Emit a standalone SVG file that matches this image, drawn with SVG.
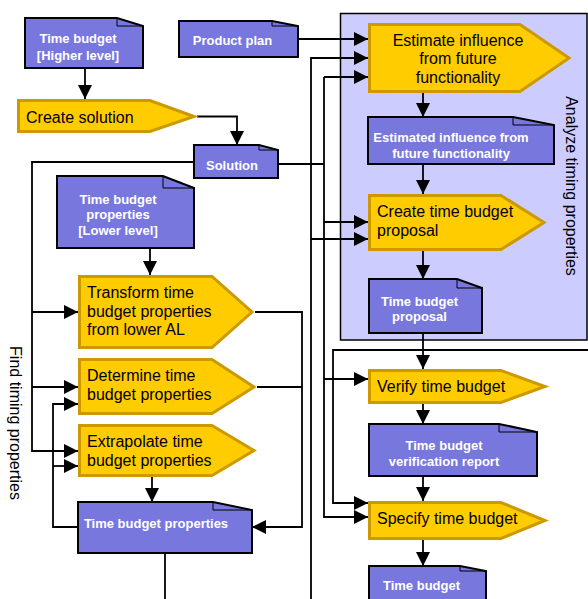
<svg xmlns="http://www.w3.org/2000/svg" width="588" height="599" viewBox="0 0 588 599">
<style>
  .proc { fill: #ffcc00; stroke: #cc9900; stroke-width: 3; stroke-linejoin: miter; }
  .doc { fill: #7777dd; stroke: #000; stroke-width: 2; }
  .fold { fill: none; stroke: #000; stroke-width: 1; }
  .pt { font-family: "Liberation Sans", Arial, sans-serif; font-size: 16px; fill: #000; }
  .dt { font-family: "Liberation Sans", Arial, sans-serif; font-size: 13px; font-weight: bold; fill: #fff; text-anchor: middle; }
  .lane { font-family: "Liberation Sans", Arial, sans-serif; font-size: 16px; fill: #000; text-anchor: middle; }
  .c { fill: none; stroke: #000; stroke-width: 1.8; }
  .a { marker-end: url(#arr); }
</style>
<defs>
  <marker id="arr" markerUnits="userSpaceOnUse" markerWidth="15" markerHeight="15" refX="14" refY="7" orient="auto">
    <path d="M0,0 L14,7 L0,14 Z" fill="#000"/>
  </marker>
</defs>
<rect x="0" y="0" width="588" height="599" fill="#fff"/>

<g id="lane-analyze">
  <rect x="340.5" y="13.5" width="246.5" height="326.5" fill="#ccccff" stroke="#000" stroke-width="1.5"/>
  <text class="lane" transform="translate(566,186) rotate(90)">Analyze timing properties</text>
</g>
<g id="lane-find">
  <text class="lane" transform="translate(10,423) rotate(90)">Find timing properties</text>
</g>

<g id="connectors">
  <path class="c a" d="M85,68 V99"/>
  <path class="c a" d="M197,116.5 H237 V145"/>
  <path class="c a" d="M194,162 H32 V451 H78"/>
  <path class="c a" d="M32,312 H78"/>
  <path class="c a" d="M32,387 H78"/>
  <path class="c a" d="M150,248 V275"/>
  <path class="c a" d="M78,527 H53 V404 H78"/>
  <path class="c a" d="M53,466 H78"/>
  <path class="c a" d="M152,477 V502"/>
  <path class="c a" d="M255,312 H302 V527 H252"/>
  <path class="c" d="M257,387 H302"/>
  <path class="c" d="M165,553 V599"/>
  <path class="c a" d="M298,39 H368"/>
  <path class="c a" d="M311,599 V58 H368"/>
  <path class="c a" d="M311,239 H368"/>
  <path class="c" d="M278,164 H324"/>
  <path class="c a" d="M324,77 H368"/>
  <path class="c a" d="M324,77 V517 H368"/>
  <path class="c a" d="M324,222 H368"/>
  <path class="c a" d="M324,379 H368"/>
  <path class="c a" d="M588,350 H333 V503 H368"/>
  <path class="c a" d="M423,93 V117"/>
  <path class="c a" d="M423,164 V194"/>
  <path class="c a" d="M423,251 V279"/>
  <path class="c a" d="M423,333 V369"/>
  <path class="c a" d="M423,404 V424"/>
  <path class="c a" d="M423,476 V501"/>
  <path class="c a" d="M423,540 V566"/>
</g>

<g id="tb-higher">
  <path class="doc" d="M25,18 H117 L143,26 V68 H25 Z"/>
  <path class="fold" d="M117,18 V26 H143"/>
  <text class="dt" x="78" y="43">Time budget</text>
  <text class="dt" x="78" y="59.5">[Higher level]</text>
</g>
<g id="create-solution">
  <path class="proc" d="M18.5,100.5 H150 L194,116.5 L150,131.5 H18.5 Z"/>
  <text class="pt" x="26" y="123">Create solution</text>
</g>
<g id="product-plan">
  <path class="doc" d="M179,21 H272 L298,26 V57 H179 Z"/>
  <path class="fold" d="M272,21 V26 H298"/>
  <text class="dt" x="232.5" y="45">Product plan</text>
</g>
<g id="solution">
  <path class="doc" d="M194,145 H259 L278,150 V178 H194 Z"/>
  <path class="fold" d="M259,145 V150 H278"/>
  <text class="dt" x="232" y="170">Solution</text>
</g>
<g id="tb-lower">
  <path class="doc" d="M57,176 H163 L194,188 V248 H57 Z"/>
  <path class="fold" d="M163,176 V188 H194"/>
  <text class="dt" x="118" y="203.5">Time budget</text>
  <text class="dt" x="118" y="219">properties</text>
  <text class="dt" x="118" y="234.5">[Lower level]</text>
</g>
<g id="transform">
  <path class="proc" d="M79.5,276.5 H212 L252,312 L212,347.5 H79.5 Z"/>
  <text class="pt" x="87" y="298">Transform time</text>
  <text class="pt" x="87" y="316.5">budget properties</text>
  <text class="pt" x="87" y="335">from lower AL</text>
</g>
<g id="determine">
  <path class="proc" d="M79.5,359.5 H212 L254,387 L212,413.5 H79.5 Z"/>
  <text class="pt" x="87" y="381">Determine time</text>
  <text class="pt" x="87" y="400">budget properties</text>
</g>
<g id="extrapolate">
  <path class="proc" d="M79.5,425.5 H212 L254,450.5 L212,475.5 H79.5 Z"/>
  <text class="pt" x="87" y="447">Extrapolate time</text>
  <text class="pt" x="87" y="466">budget properties</text>
</g>
<g id="tb-properties">
  <path class="doc" d="M78,502 H213 L252,510 V553 H78 Z"/>
  <path class="fold" d="M213,502 V510 H252"/>
  <text class="dt" x="156" y="528">Time budget properties</text>
</g>
<g id="estimate">
  <path class="proc" d="M369.5,24.5 H520 L569,58 L520,91.5 H369.5 Z"/>
  <text class="pt" x="458" y="46" text-anchor="middle">Estimate influence</text>
  <text class="pt" x="458" y="64" text-anchor="middle">from future</text>
  <text class="pt" x="458" y="82.5" text-anchor="middle">functionality</text>
</g>
<g id="estimated-influence">
  <path class="doc" d="M368,117 H513 L554,125 V164 H368 Z"/>
  <path class="fold" d="M513,117 V125 H554"/>
  <text class="dt" x="451" y="142">Estimated influence from</text>
  <text class="dt" x="451" y="158">future functionality</text>
</g>
<g id="create-proposal">
  <path class="proc" d="M369.5,195.5 H501 L544,222.5 L501,249.5 H369.5 Z"/>
  <text class="pt" x="377" y="217">Create time budget</text>
  <text class="pt" x="377" y="235.5">proposal</text>
</g>
<g id="tb-proposal">
  <path class="doc" d="M369,279 H457 L482,288 V333 H369 Z"/>
  <path class="fold" d="M457,279 V288 H482"/>
  <text class="dt" x="419.5" y="305.5">Time budget</text>
  <text class="dt" x="419.5" y="321">proposal</text>
</g>
<g id="verify">
  <path class="proc" d="M369.5,370.5 H501 L545,386.5 L501,402.5 H369.5 Z"/>
  <text class="pt" x="377" y="392">Verify time budget</text>
</g>
<g id="verification-report">
  <path class="doc" d="M369,424 H499 L537,432 V476 H369 Z"/>
  <path class="fold" d="M499,424 V432 H537"/>
  <text class="dt" x="444" y="450">Time budget</text>
  <text class="dt" x="444" y="465.5">verification report</text>
</g>
<g id="specify">
  <path class="proc" d="M369.5,502.5 H501 L545,520.5 L501,538.5 H369.5 Z"/>
  <text class="pt" x="377" y="524">Specify time budget</text>
</g>
<g id="time-budget">
  <path class="doc" d="M369,566 H460 L486,571 V615 H369 Z"/>
  <path class="fold" d="M460,566 V571 H486"/>
  <text class="dt" x="421.5" y="590">Time budget</text>
</g>
</svg>
